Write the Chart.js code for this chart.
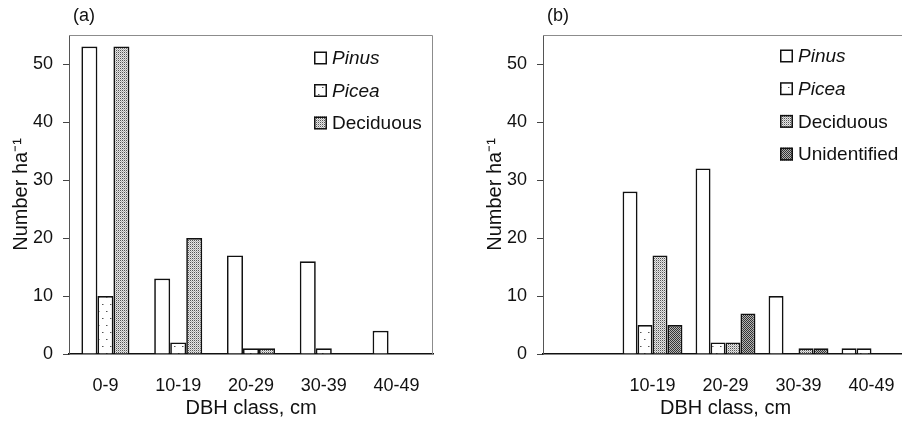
<!DOCTYPE html>
<html><head><meta charset="utf-8">
<script src="https://cdn.jsdelivr.net/npm/chart.js@4"></script>
<style>
html,body{margin:0;padding:0;background:#fff;overflow:hidden;width:902px;height:423px;position:relative;}
#wa{position:absolute;left:0;top:0;width:450px;height:423px;}
#wb{position:absolute;left:450px;top:0;width:460px;height:423px;}
</style></head><body>
<div id="wa"><canvas id="ca" width="450" height="423"></canvas></div>
<div id="wb"><canvas id="cb" width="460" height="423"></canvas></div>
<script>
// ---- data ----
const categoriesA = ['0-9','10-19','20-29','30-39','40-49'];
const categoriesB = ['','10-19','20-29','30-39','40-49'];
const pinusA = [53,13,17,16,4];
const piceaA = [10,2,1,1,0];
const deciduousA = [53,20,1,0,0];
const pinusB = [null,28,32,10,1];
const piceaB = [null,5,2,0,1];
const deciduousB = [null,17,2,1,0];
const unidentifiedB = [null,5,7,1,0];
const yTicks = [0,10,20,30,40,50];
const yMax = 55;
const xTitle = 'DBH class, cm';
const yTitle = 'Number ha\u207B\u00B9';

const FAMILY = '"Liberation Sans", Arial, Helvetica, sans-serif';
const INK = '#111';
Chart.defaults.font.family = FAMILY;
Chart.defaults.color = INK;

function makePattern(kind){
  const c = document.createElement('canvas');
  const g = c.getContext('2d');
  if (kind === 'pinus') {
    c.width = c.height = 2; g.fillStyle = '#fff'; g.fillRect(0,0,2,2);
  } else if (kind === 'picea') {
    c.width = 8; c.height = 14;
    g.fillStyle = '#fff'; g.fillRect(0,0,8,14);
    g.fillStyle = '#555'; g.fillRect(2,3,1,1); g.fillRect(6,10,1,1);
    g.fillStyle = '#aaa'; g.fillRect(3,3,1,1); g.fillRect(7,10,1,1);
  } else if (kind === 'deciduous') {
    c.width = c.height = 2;
    g.fillStyle = '#e6e6e6'; g.fillRect(0,0,2,2);
    g.fillStyle = '#555'; g.fillRect(0,0,1,1);
    g.fillStyle = '#b0b0b0'; g.fillRect(1,1,1,1);
  } else {
    c.width = c.height = 2;
    g.fillStyle = '#b5b5b5'; g.fillRect(0,0,2,2);
    g.fillStyle = '#333'; g.fillRect(0,0,1,1); g.fillRect(1,1,1,1);
  }
  return g.createPattern(c, 'repeat');
}
const fills = {
  pinus: makePattern('pinus'), picea: makePattern('picea'),
  deciduous: makePattern('deciduous'), unidentified: makePattern('unidentified')
};

function ds(label, data, fill, italic){
  return { label, data, backgroundColor: fill, borderColor: '#111', borderWidth: 1.7,
           barPercentage: 1, italic };
}

const panelPlugin = {
  id: 'panel',
  afterDraw(chart, args, o){
    const ctx = chart.ctx, a = chart.chartArea;
    ctx.save();
    ctx.strokeStyle = '#8c8c8c'; ctx.lineWidth = 1;
    ctx.beginPath();
    ctx.moveTo(a.left, a.top + 0.5);
    ctx.lineTo(a.right - 0.5, a.top + 0.5);
    ctx.lineTo(a.right - 0.5, a.bottom);
    ctx.stroke();
    ctx.fillStyle = INK; ctx.textBaseline = 'middle'; ctx.textAlign = 'left';
    ctx.font = '18px ' + FAMILY;
    ctx.fillText(o.label, o.labelX, o.labelY);
    chart.data.datasets.forEach((d, i) => {
      const y = o.legendY + i * o.legendGap;
      ctx.fillStyle = d.backgroundColor;
      ctx.fillRect(o.legendX, y - 6.5, 13, 13);
      ctx.strokeStyle = '#111'; ctx.lineWidth = 1.5;
      ctx.strokeRect(o.legendX + 0.75, y - 5.75, 11.5, 11.5);
      ctx.fillStyle = INK;
      ctx.font = (d.italic ? 'italic ' : '') + '19px ' + FAMILY;
      ctx.fillText(d.label, o.legendX + 18, y + 1);
    });
    ctx.restore();
  }
};

function makeChart(id, labels, datasets, catPct, pad, panel){
  return new Chart(document.getElementById(id), {
    type: 'bar',
    data: { labels, datasets },
    plugins: [panelPlugin],
    options: {
      responsive: false, animation: false,
      devicePixelRatio: 1,
      categoryPercentage: catPct,
      layout: { padding: pad },
      plugins: { legend: { display: false }, tooltip: { enabled: false }, panel },
      scales: {
        x: {
          z: 1,
          afterFit: s => { s.height = 69; },
          grid: { display: false },
          border: { display: true, color: '#111', width: 1.5 },
          ticks: { padding: 13, maxRotation: 0, autoSkip: false, color: INK, font: { size: 18 } },
          title: { display: true, text: xTitle, color: INK, font: { size: 20 }, padding: { top: 0, bottom: 3 } }
        },
        y: {
          min: 0, max: yMax,
          afterBuildTicks: s => { s.ticks = yTicks.map(v => ({ value: v })); },
          afterFit: s => { s.width = 69; },
          grid: { drawOnChartArea: false, drawTicks: true, tickLength: 6, color: '#444', lineWidth: 1 },
          border: { display: true, color: '#555', width: 1 },
          ticks: { padding: 10, color: INK, font: { size: 18 } },
          title: { display: true, text: yTitle, color: INK, font: { size: 20 }, padding: { top: 9, bottom: 0 } }
        }
      }
    }
  });
}

makeChart('ca', categoriesA, [
  ds('Pinus', pinusA, fills.pinus, true),
  ds('Picea', piceaA, fills.picea, true),
  ds('Deciduous', deciduousA, fills.deciduous, false)
], 0.66, { left: 0, right: 17, top: 35, bottom: 0 },
{ label: '(a)', labelX: 73, labelY: 16, legendX: 314, legendY: 58, legendGap: 32.5 });

makeChart('cb', categoriesB, [
  ds('Pinus', pinusB, fills.pinus, true),
  ds('Picea', piceaB, fills.picea, true),
  ds('Deciduous', deciduousB, fills.deciduous, false),
  ds('Unidentified', unidentifiedB, fills.unidentified, false)
], 0.82, { left: 24, right: 2, top: 35, bottom: 0 },
{ label: '(b)', labelX: 97, labelY: 16, legendX: 330, legendY: 56, legendGap: 32.7 });
</script>
</body></html>
